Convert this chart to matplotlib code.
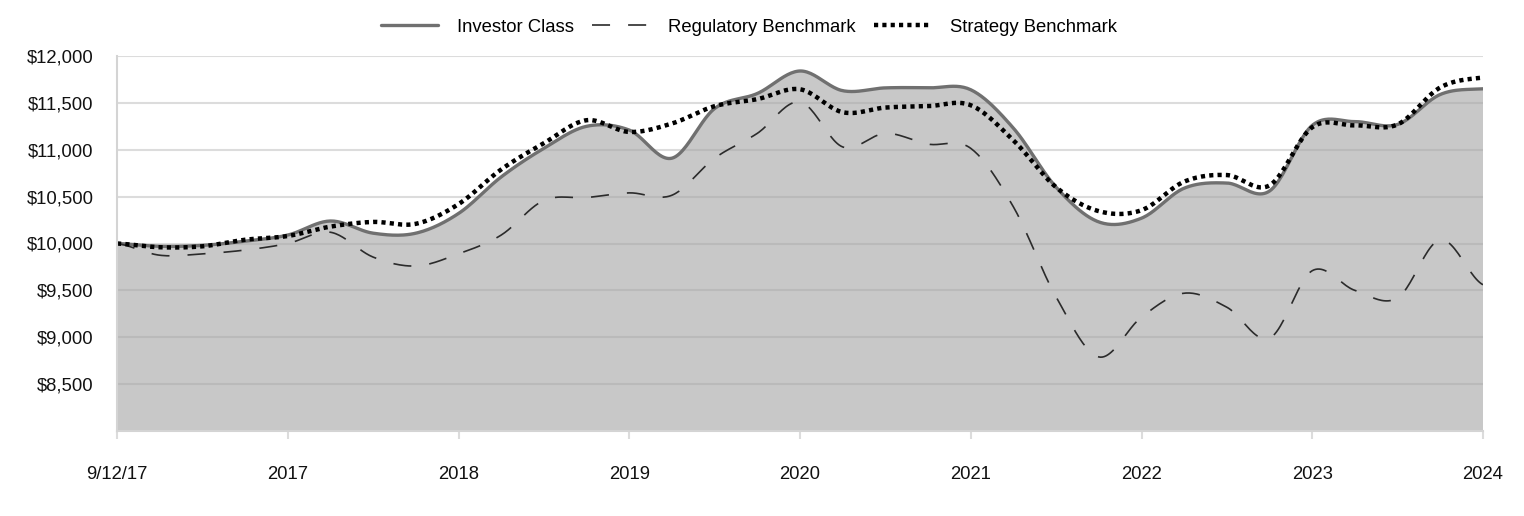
import numpy as np
import matplotlib
matplotlib.use("Agg")
import matplotlib.pyplot as plt

plt.rcParams['font.family'] = ['Liberation Sans', 'DejaVu Sans']
plt.rcParams['lines.scale_dashes'] = False

# quarterly values, 9/12/17 .. 2024
tick_labels = ["9/12/17", "2017", "2018", "2019", "2020", "2021", "2022", "2023", "2024"]

investor = [10000, 9970, 9980, 10025, 10090, 10240, 10110, 10110, 10320,
            10710, 11015, 11250, 11210, 10910, 11440, 11600, 11840,
            11630, 11660, 11660, 11640, 11230, 10600, 10230, 10270,
            10590, 10645, 10560, 11260, 11300, 11270, 11590, 11650]
regulatory = [10000, 9875, 9890, 9930, 10000, 10120, 9855, 9760, 9890,
              10090, 10460, 10490, 10540, 10515, 10910, 11175, 11510,
              11030, 11175, 11060, 11015, 10390, 9430, 8790, 9215,
              9470, 9320, 8990, 9710, 9500, 9420, 10040, 9560]
strategy = [10000, 9960, 9970, 10040, 10080, 10180, 10230, 10210, 10420,
            10790, 11070, 11315, 11190, 11280, 11465, 11540, 11645,
            11400, 11450, 11465, 11475, 11100, 10600, 10345, 10355,
            10660, 10730, 10620, 11240, 11260, 11270, 11665, 11770]


def smooth(y, n=24):
    # catmull-rom curve through the points, like the spreadsheet "smoothed line"
    y = np.asarray(y, float)
    x = np.arange(len(y), dtype=float)
    p = np.concatenate([[y[0]], y, [y[-1]]])
    xs, ys = [], []
    t = np.linspace(0, 1, n, endpoint=False)
    for i in range(len(y) - 1):
        p0, p1, p2, p3 = p[i], p[i + 1], p[i + 2], p[i + 3]
        seg = 0.5 * ((2 * p1) + (-p0 + p2) * t + (2 * p0 - 5 * p1 + 4 * p2 - p3) * t ** 2
                     + (-p0 + 3 * p1 - 3 * p2 + p3) * t ** 3)
        xs.append(x[i] + t)
        ys.append(seg)
    xs.append([x[-1]])
    ys.append([y[-1]])
    return np.concatenate(xs), np.concatenate(ys)


fig = plt.figure(figsize=(15.24, 5.16), dpi=100)
ax = fig.add_axes([117 / 1524, 1 - 431 / 516, 1366 / 1524, 375 / 516])

xi, yi = smooth(investor)
xr, yr = smooth(regulatory)
xs_, ys_ = smooth(strategy)

ax.fill_between(xi, 0, yi, color='#a4a4a4', alpha=0.6, lw=0, zorder=2)
ax.plot(xi, yi, color='#707070', lw=2.4, solid_capstyle='round', zorder=3, label='Investor Class')
ax.plot(xr, yr, color='#2b2b2b', lw=1.2, dashes=(13, 13), zorder=4, label='Regulatory Benchmark')
ax.plot(xs_, ys_, color='#000000', lw=3.2, dashes=(3, 3), dash_capstyle='butt', zorder=5,
        label='Strategy Benchmark')

ax.set_xlim(0, len(investor) - 1)
ax.set_ylim(8000, 12000)
ax.set_yticks(np.arange(8500, 12001, 500))
ax.set_yticklabels([f"${v:,.0f}" for v in np.arange(8500, 12001, 500)])
ax.set_xticks(np.arange(0, len(investor), 4))
ax.set_xticklabels(tick_labels)

ax.grid(axis='y', color='#dcdcdc', lw=1.5, zorder=1)
ax.set_axisbelow(True)
for s in ['top', 'right']:
    ax.spines[s].set_visible(False)
for s in ['left', 'bottom']:
    ax.spines[s].set_color('#d4d4d4')
    ax.spines[s].set_linewidth(1.5)
    ax.spines[s].set_zorder(6)

ax.tick_params(axis='y', length=0, pad=17, labelsize=13.3, labelcolor='#111111')
ax.tick_params(axis='x', length=6, width=1.5, color='#dcdcdc', pad=19, labelsize=13.3,
               labelcolor='#111111')

fig.legend(loc='center', bbox_to_anchor=(749 / 1524, 1 - 27 / 516), ncol=3, frameon=False,
           fontsize=13.3, handlelength=3.1, handletextpad=1.0, columnspacing=1.0)

fig.savefig('out.png', dpi=100)
